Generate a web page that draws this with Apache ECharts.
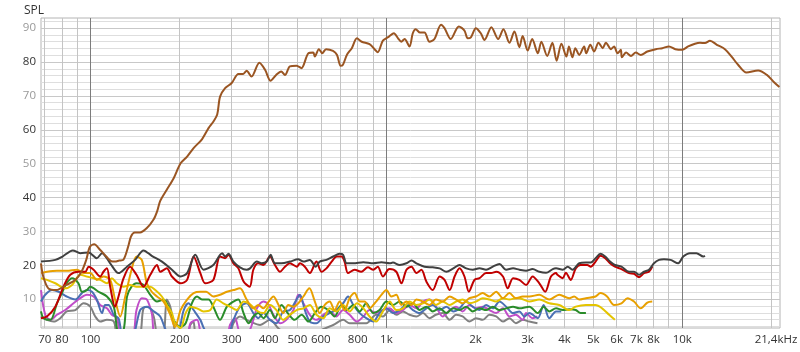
<!DOCTYPE html>
<html><head><meta charset="utf-8">
<script src="https://cdn.jsdelivr.net/npm/echarts@6/dist/echarts.min.js"></script>
<style>html,body{margin:0;padding:0;background:#fff}#c{width:800px;height:352px}</style>
</head><body><div id="c"></div>
<script>
// tick labels / grid values
const xTickLabels = [70,80,100,200,300,400,500,600,800,1000,2000,3000,4000,5000,6000,7000,8000,10000,21400];
const xMinorGrid = [70,80,90,200,300,400,500,600,700,800,900,2000,3000,4000,5000,6000,7000,8000,9000,20000];
const xMajorGrid = [100,1000,10000];
const yTickLabels = [10,20,30,40,50,60,70,80,90];
const yMinorGrid = [2,4,6,8,12,14,16,18,22,24,26,28,32,34,36,38,42,44,46,48,52,54,56,58,62,64,66,68,72,74,76,78,82,84,86,88,92];

// series values: [frequency Hz, SPL dB]
const splMain = [[68,20.6],[69.2,16.7],[72,13.2],[76.6,12.7],[82.8,14.2],[88.8,15.7],[93.2,18.1],[96.7,21.6],[99.5,25.5],[102.9,26.2],[107.6,24.6],[113,22.6],[117.5,21.2],[121,21.1],[125,21.4],[129,21.6],[134,25.5],[137,28.5],[141,29.7],[147,29.7],[155,31],[163.5,33.6],[168,36],[172,39],[181,42.3],[191,45.7],[201.5,50.1],[212,52.1],[223,54.6],[238,57.2],[250.5,60.5],[260,62.4],[268,64.5],[274,69.8],[285,72.3],[300,73.8],[316,76.5],[328,76.5],[337,77.4],[350,75.7],[372,79.8],[389,77.7],[406,74.5],[424,76.2],[441,77.2],[454,76.2],[472,78.7],[497,78.9],[516,78.2],[545,82.6],[566,82.8],[573,81.6],[591,83.8],[607,82.6],[625,83.8],[660,83.3],[681,82.1],[700,78.9],[713,79.2],[735,82.1],[764,84.1],[795,87.0],[825,86.0],[877,85.3],[912,83.8],[935,82.9],[973,86.3],[1020,87.5],[1060,88.5],[1095,87],[1123,86],[1152,86.8],[1197,84.6],[1228,88.5],[1256,89.7],[1300,88.7],[1345,88.7],[1398,86],[1453,86.8],[1530,91],[1572,90],[1650,86.8],[1757,90.5],[1836,89.3],[1883,87],[1930,87.3],[2006,90],[2085,88.5],[2145,86.5],[2264,90.3],[2387,86.8],[2487,89.7],[2605,85.7],[2708,89],[2815,84.4],[2888,87.7],[3003,83.4],[3110,86.8],[3250,82.6],[3340,86],[3495,81.8],[3640,85.7],[3760,80.4],[3905,85.4],[4060,81.6],[4140,84.6],[4255,81.4],[4350,84.1],[4485,82.1],[4660,84.6],[4735,82.6],[4890,85.1],[5037,83.1],[5210,85.7],[5385,84.1],[5520,85.7],[5745,83.8],[5883,84.6],[6043,82.6],[6200,83.6],[6250,81.4],[6460,82.8],[6710,81.8],[6965,82.8],[7240,82.1],[7620,83.1],[8140,83.8],[8560,84.1],[9020,84.6],[9480,83.8],[10000,83.6],[10470,84.6],[11040,85.4],[11480,85.7],[11935,85.6],[12410,86.3],[13090,85.1],[13940,83.8],[14680,81.6],[15440,79.2],[16480,76.9],[18050,77.5],[19320,76.2],[20350,74.2],[21300,72.6]];

const splDark = [[68,21.1],[76,21.6],[80.4,22.6],[87.1,24.4],[92.3,23.6],[98.5,23.8],[105,22.1],[109.3,23.6],[116.5,20.6],[124.3,17.7],[132.8,19.6],[141.5,21.6],[151,24.4],[161,22.8],[174.3,21.1],[188.4,18.7],[201.5,16.7],[212,17.7],[226,23.1],[241,18.7],[260,20.1],[278.6,23.6],[285,22.6],[292.5,23.4],[304,21.1],[320,19.4],[337,18.7],[346,19.1],[365,21.1],[379,20.6],[394,21.1],[406,23.1],[420,20.6],[442,20.6],[472,21.1],[503,21.8],[524,21.1],[551,21.6],[577,19.6],[595,21.1],[627,21.6],[661,22.6],[695,23.4],[714,23.1],[734,20.6],[773,20.6],[836,20.9],[903,20.6],[962,20.9],[1026,20.6],[1052,20.8],[1109,20.1],[1169,20.6],[1216,21.4],[1263,20.6],[1345,19.6],[1434,19.4],[1513,19.1],[1595,18.1],[1683,19.1],[1767,20.1],[1861,19.1],[1957,18.7],[2064,19.1],[2173,18.7],[2290,19.6],[2410,20.4],[2540,18.7],[2680,19.1],[2815,18.7],[2966,18.4],[3120,18.9],[3288,18.1],[3465,17.8],[3650,18.9],[3745,19.1],[3945,18.7],[4100,19.6],[4257,18.7],[4485,20.6],[4725,20.8],[4905,20.8],[5093,22.1],[5290,23.4],[5490,22.6],[5700,21.1],[5920,20.1],[6230,19.6],[6610,18.1],[6870,18.1],[7145,17.2],[7427,18.1],[7720,18.7],[8026,20.6],[8345,21.6],[8674,21.8],[9130,21.6],[9690,20.6],[10080,22.6],[10616,23.6],[11170,23.6],[11780,22.6],[11935,22.8]];

const splRed = [[68,4.4],[71.2,4.9],[76,7.8],[81,13.7],[85.4,17.2],[91,18.1],[96,18.1],[98.5,19.6],[102.4,18.7],[107.8,16.7],[110.6,18.1],[113.6,19.1],[116.5,13.7],[121,7.8],[124.3,10.8],[129.3,16.2],[136,19.6],[143,17.2],[151,13.7],[159.2,17.2],[167.7,20.1],[172,18.1],[181,19.1],[188.4,16.7],[201.5,14.7],[212,15.7],[223,22.6],[235,17.7],[244,14.7],[260,15.7],[274,22.6],[285,22.1],[292.5,23.1],[304,20.6],[316,19.1],[329,15.2],[345,13.7],[355,18.7],[369,20.6],[384,20.1],[404,22.6],[420,20.1],[437,18.1],[454,19.6],[472,20.6],[498,19.6],[510,20.6],[530,19.6],[551,17.7],[580,21.1],[603,18.1],[627,19.1],[653,21.1],[680,22.6],[705,22.6],[722,21.1],[742,17.7],[781,18.7],[822,18.1],[866,19.4],[903,18.7],[935,19.6],[973,16.7],[1012,18.7],[1026,18.9],[1080,18.1],[1124,14.7],[1169,18.7],[1216,19.6],[1263,17.7],[1313,18.7],[1365,15.2],[1434,12.7],[1513,16.7],[1572,15.7],[1636,12.7],[1700,16.7],[1767,19.1],[1836,16.7],[1900,12.2],[1985,15.7],[2064,16.2],[2173,17.7],[2260,17.7],[2350,18.1],[2477,16.7],[2570,13.2],[2680,16.2],[2815,15.7],[2966,14.2],[3120,16.7],[3288,14.7],[3440,12.2],[3600,16.7],[3745,17.7],[3785,17.2],[3945,16.2],[4040,17.8],[4200,15.7],[4365,19.1],[4530,20.1],[4775,20.1],[4905,19.6],[5093,21.1],[5290,22.8],[5490,22.1],[5700,20.6],[5920,19.6],[6230,18.9],[6610,17.7],[6870,17.5],[7145,16.5],[7427,17.7],[7720,18.1],[7920,19.6]];

const splOrange = [[68,17.7],[71.2,18.1],[77,18.4],[83,18.4],[90,18.7],[95,17.7],[99.8,17.7],[105,15.7],[110.6,16.7],[116.5,15.7],[121,9.9],[126,4.9],[131,10.8],[137.6,18.7],[143,22.6],[149,21.6],[155,14.7],[161,12.2],[167.7,10.8],[176.5,9.3],[186,5.4],[193,1.8],[201.5,6.8],[212,9.9],[223,11.8],[235,12.2],[246,12.2],[260,10.8],[274,11.3],[289,12.2],[304,12.7],[320,13.2],[337,9.9],[355,7.3],[369,8.3],[384,7.3],[400,9.3],[415,10.8],[432,8.3],[448,5.9],[466,8.3],[485,7.8],[504,8.8],[524,10.8],[549,13.2],[573,9.3],[595,5.9],[619,8.3],[643,9.3],[668,6.8],[695,9.3],[722,6.8],[751,10.3],[781,11.8],[812,9.3],[844,9.3],[877,7.3],[923,9.3],[962,11.3],[1000,12.7],[1039,10.8],[1080,11.3],[1123,8.3],[1169,9.3],[1216,8.3],[1263,9.9],[1330,9.3],[1398,8.3],[1470,9.9],[1550,9.3],[1636,10.8],[1720,9.9],[1810,8.8],[1908,10.3],[2007,10.8],[2116,11.8],[2230,10.8],[2350,12.2],[2477,10.3],[2605,11.8],[2740,10.3],[2890,10.8],[3042,10.8],[3288,11.3],[3553,9.9],[3840,11.3],[4149,10.3],[4313,10.8],[4485,9.9],[4725,10.3],[5093,10.8],[5290,11.8],[5570,10.8],[5883,8.3],[6230,8.8],[6530,10.3],[6870,9.3],[7240,7.3],[7620,9.0],[7920,9.3]];

const splYellow = [[68,16.2],[71.2,15.7],[76,14.7],[82.1,13.2],[86.6,14.2],[92.3,17.2],[97.2,16.7],[102.4,16.2],[107.8,15.7],[113.6,14.7],[118,16.2],[122.8,14.7],[129.3,13.7],[136,14.2],[143,13.7],[151,13.7],[159.2,13.7],[165.5,12.7],[174.2,10.8],[181,8.3],[188.4,5.9],[193,2.9],[201.5,1.5],[209.6,5.9],[217.5,7.8],[229,7.3],[241,6.4],[254,6.8],[267,9.9],[281,8.8],[296,7.8],[312,6.8],[329,9.3],[346,8.5],[365,6.6],[384,5.9],[404,8.3],[425,6.8],[448,3.9],[472,5.4],[497,6.8],[524,7.3],[551,8.3],[580,5.4],[612,4.4],[643,7.3],[677,6.4],[714,8.3],[751,6.4],[795,8.8],[836,7.3],[877,4.9],[923,3.4],[973,6.4],[1026,9.3],[1080,6.8],[1137,7.3],[1197,9.3],[1263,8.3],[1330,8.8],[1398,9.9],[1470,8.3],[1550,9.3],[1636,8.3],[1720,9.3],[1810,9.9],[1908,8.8],[2007,9.3],[2116,10.3],[2230,9.9],[2350,9.3],[2477,10.3],[2605,9.9],[2740,10.3],[2815,10.3],[3042,9.3],[3288,9.9],[3553,8.8],[3840,8.3],[4149,6.8],[4365,7.8],[4725,8.3],[5093,8.3],[5360,7.3],[5660,5.4],[5920,3.9]];

const splGreen = [[68,6.4],[69.4,4.4],[73.2,3.9],[77,8.8],[80,11.8],[83,14.7],[86.6,16.2],[91,14.7],[93.5,12.2],[97.2,12.7],[99.8,13.7],[106.4,12.2],[113.6,10.8],[119.8,7.8],[122.8,1.4],[126,-2],[130,2],[132.8,10.8],[137.6,13.7],[143,14.7],[151,14.2],[159.2,11.3],[167.7,9.3],[176.5,9.9],[183.5,7.8],[190.7,3.9],[201.5,1.8],[209.6,2.9],[220,8.8],[229,10.8],[238,9.9],[250.5,9.9],[260,7.8],[274,3.9],[289,7.8],[304,9.3],[316,9.9],[329,5.9],[342,2.9],[355,4.9],[369,5.9],[384,4.4],[404,6.8],[420,4.4],[442,8.3],[464,5.9],[490,3.9],[517,5.4],[545,3.4],[573,5.9],[603,7.8],[636,6.8],[668,4.9],[706,8.3],[734,6.8],[773,8.3],[812,6.4],[855,8.8],[903,5.9],[948,6.8],[1000,9.3],[1052,8.3],[1109,9.3],[1169,7.8],[1230,8.8],[1295,6.8],[1365,7.8],[1434,6.4],[1513,7.3],[1595,5.9],[1683,7.3],[1767,6.8],[1861,7.8],[1957,6.4],[2064,7.3],[2173,6.8],[2290,7.8],[2410,6.8],[2540,7.3],[2680,7.8],[2815,7.3],[3042,7.8],[3250,5.9],[3400,7.8],[3553,6.4],[3745,7.3],[3945,6.8],[4149,7.0],[4365,6.8],[4530,5.9],[4725,5.9]];

const splBlue = [[68,9.3],[70.3,11.3],[74.1,12.7],[78,12.2],[83,10.8],[88.8,9.9],[93.5,11.8],[97.2,12.7],[101.1,12.2],[105,9.9],[109.3,5.9],[112,8.3],[115,8.3],[119.8,5.4],[124.3,4.4],[129,-1],[138,-1],[147.2,6.8],[155,7.8],[163.5,6.4],[172,4.9],[181,0.5],[195,-1],[206.5,6.8],[214.3,8.8],[223,6.8],[235,3.9],[246,0.5],[288,-1],[304,3.9],[320,7.8],[337,8.8],[355,5.9],[369,4.4],[384,5.9],[404,3.9],[425,2.9],[448,6.4],[472,6.8],[497,9.9],[510,11.3],[530,6.8],[551,3.4],[580,2.9],[612,4.9],[643,5.9],[677,6.8],[714,8.8],[742,10.8],[773,8.3],[812,5.9],[855,4.4],[903,3.4],[948,5.9],[1000,7.3],[1052,5.9],[1109,6.8],[1169,8.3],[1230,6.8],[1295,5.9],[1365,7.3],[1434,8.3],[1513,6.8],[1595,7.8],[1683,6.4],[1767,7.3],[1861,9.3],[1957,7.8],[2064,6.8],[2173,8.3],[2290,7.3],[2410,9.3],[2540,7.8],[2680,5.9],[2815,6.4],[2926,4.9],[3042,5.9],[3250,4.4],[3400,8.3],[3553,4.4],[3745,6.4],[3900,6.4]];

const splPurple = [[68,12.7],[70.3,5.4],[73.2,3.9],[77,5.4],[82.1,6.8],[87.6,8.8],[92.3,10.3],[97.2,11.3],[102.4,10.8],[107.8,8.3],[113.6,7.3],[118,5.4],[122.8,4.4],[127.2,-1],[138.3,-1],[143,6.8],[149,10.3],[155,9.9],[161,5.9],[167,-1],[211,-1],[217.5,2.9],[229,3.9],[240,-1],[288,-1],[296,2.4],[308,4.4],[320,0.5],[341,0.5],[355,3.9],[365,7.3],[384,9.3],[400,8.3],[415,5.4],[437,2.9],[459,3.9],[485,6.8],[504,11.3],[524,8.8],[551,5.4],[580,3.9],[612,5.4],[643,6.4],[677,4.9],[714,6.8],[751,5.4],[795,3.4],[836,4.9],[877,6.8],[923,5.9],[973,6.8],[1026,7.3],[1080,5.9],[1137,6.8],[1197,8.3],[1263,7.3],[1330,9.3],[1398,9.9],[1470,7.8],[1550,4.9],[1636,6.8],[1720,7.8],[1810,6.4],[1908,8.3],[2007,7.3],[2116,7.8],[2230,6.8],[2350,5.9],[2477,7.3],[2605,4.9],[2740,5.4],[2890,3.9],[2966,5.9],[3120,4.4],[3240,4.9]];

const splGray = [[68,4.9],[71.2,3.9],[75,3.4],[79,4.4],[83,6.4],[88.8,6.8],[94.7,8.8],[99.8,7.8],[103.7,4.9],[107.8,3.4],[113.6,3.9],[119.8,3.4],[124,-1],[145,-1],[151,7.3],[157,7.8],[163.5,4.9],[169,-1],[176,-1],[181,9.9],[186,7.8],[190.7,2.9],[196,-1],[211,-1],[217.5,2.4],[222.5,3.4],[229.5,-1],[291.7,-1],[304,2.9],[320,4.9],[337,3.9],[346,3.4],[374,2.4],[404,3.9],[437,1],[510,-1],[661,2.4],[714,3.9],[751,2.9],[855,2.9],[923,5.4],[973,4.9],[1026,6.8],[1080,5.4],[1137,6.4],[1197,5.4],[1263,4.9],[1330,5.9],[1398,4.4],[1470,5.4],[1550,5.9],[1636,3.9],[1720,5.4],[1810,4.9],[1908,3.4],[2007,4.4],[2116,3.9],[2230,5.4],[2350,4.9],[2477,3.4],[2605,4.4],[2740,2.9],[2890,3.9],[3042,3.4],[3240,2.9]];

const FONT = '"Open Sans", "Noto Sans", sans-serif';
const chart = echarts.init(document.getElementById('c'), null, {renderer: 'canvas'});

function mk(data, color, z) {
  return {type: 'line', data: data, xAxisIndex: 0, yAxisIndex: 0, symbol: 'none', smooth: 0.3,
    lineStyle: {color: color, width: 2}, itemStyle: {color: color}, z: z, silent: true, animation: false, clip: true};
}
function fmtHz(v) {
  if (v === 21400) return '{last|21,4kHz}';
  if (v >= 1000) return (v / 1000) + 'k';
  return String(v);
}

chart.setOption({
  animation: false,
  backgroundColor: '#fff',
  title: {text: 'SPL', left: 19, top: 0, textStyle: {fontSize: 12, fontWeight: 'normal', color: '#333', fontFamily: FONT}},
  grid: {left: 41, right: 20, top: 18, bottom: 24, show: true, borderColor: '#b4b4b4', borderWidth: 1, containLabel: false, outerBoundsMode: 'none'},
  xAxis: [
    {type: 'log', logBase: 10, min: 68, max: 21400, position: 'bottom',
     axisLine: {show: false}, axisTick: {show: false, customValues: xMinorGrid},
     axisLabel: {show: true, customValues: xTickLabels, formatter: fmtHz, color: '#333', fontSize: 11.5, fontFamily: FONT, margin: 6,
       rich: {last: {fontSize: 11.5, fontFamily: FONT, color: '#333', padding: [0, 8, 0, 0]}}},
     splitLine: {show: true, lineStyle: {color: '#c4c4c4', width: 1}}},
    {type: 'log', logBase: 10, min: 68, max: 21400, position: 'bottom',
     axisLine: {show: false}, axisTick: {show: false, customValues: xMajorGrid},
     axisLabel: {show: false},
     splitLine: {show: true, lineStyle: {color: '#7c7c7c', width: 1}}}
  ],
  yAxis: [
    {type: 'value', min: 1.5, max: 93,
     axisLine: {show: false}, axisTick: {show: false, customValues: yMinorGrid},
     axisLabel: {show: false},
     splitLine: {show: true, lineStyle: {color: '#dedede', width: 1}}},
    {type: 'value', min: 1.5, max: 93, position: 'left',
     axisLine: {show: false}, axisTick: {show: false, customValues: yTickLabels},
     axisLabel: {show: true, customValues: yTickLabels, fontSize: 11.5, fontFamily: FONT, margin: 5,
       color: function (v) { return (Math.round(v / 10) % 2 === 0) ? '#333' : '#999'; }},
     splitLine: {show: true, lineStyle: {color: '#c8c8c8', width: 1}}}
  ],
  series: [
    mk(splGray, '#808080', 2),
    mk(splPurple, '#c04ec8', 3),
    mk(splBlue, '#4a70b4', 4),
    mk(splGreen, '#2a8c2a', 5),
    mk(splYellow, '#e4c400', 6),
    mk(splOrange, '#e8a000', 7),
    mk(splRed, '#c00000', 8),
    mk(splDark, '#404040', 9),
    mk(splMain, '#9a5522', 10)
  ]
});
</script></body></html>
